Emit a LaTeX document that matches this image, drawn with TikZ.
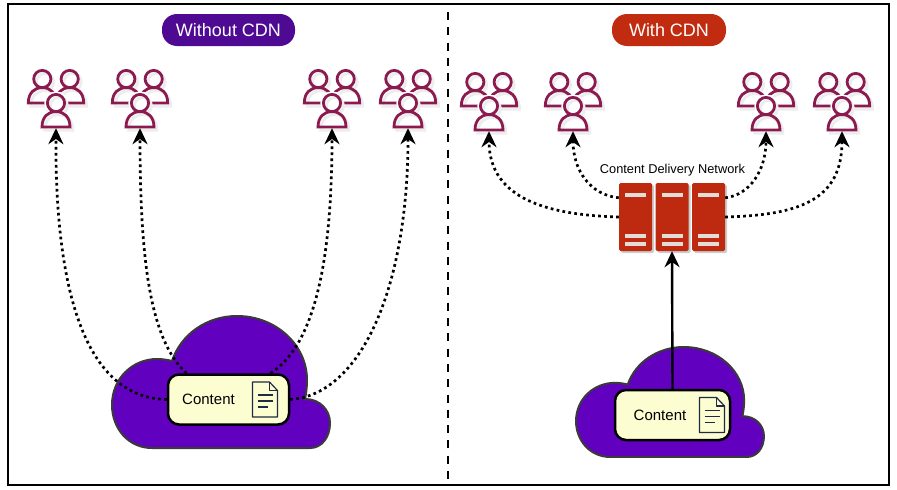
\documentclass[tikz,border=0pt]{standalone}
\usepackage{fontspec}
\setmainfont{Liberation Sans}
\usetikzlibrary{arrows.meta,shadows}
\definecolor{pilla}{HTML}{4F0A94}
\definecolor{pillb}{HTML}{C12C10}
\definecolor{cloudfill}{HTML}{6200C0}
\definecolor{cloudline}{HTML}{3A3A3A}
\definecolor{boxfill}{HTML}{FDFDD2}
\definecolor{docline}{HTML}{1F2A44}
\definecolor{personline}{HTML}{8B1A4F}
\definecolor{serverfill}{HTML}{BE2A10}
\definecolor{barfill}{HTML}{E4DCD6}
\tikzset{
  pill/.style={rounded corners=15pt,text=white,inner sep=0pt,minimum height=32pt,font=\fontsize{18}{22}\selectfont},
  contentbox/.style={draw=black,line width=2.5pt,fill=boxfill,rounded corners=11pt,inner sep=0pt,minimum height=50pt,font=\fontsize{15}{18}\selectfont},
  groupbox/.style={inner sep=0pt,minimum width=60pt,minimum height=60pt},
  serverbox/.style={fill=serverfill,rounded corners=1.5pt,inner sep=0pt,minimum width=33pt,minimum height=68pt,drop shadow={shadow xshift=2pt,shadow yshift=-2pt,fill=black,opacity=.2}},
  dots/.style={line width=2.7pt,dash pattern=on 2.7pt off 3.3pt,-{Stealth[length=16pt,width=15pt]}},
  solid arrow/.style={line width=2.4pt,-{Stealth[length=16pt,width=15pt]}},
  person/.pic={
    \path[pic actions] (0,0) circle (8.6);
    \path[pic actions] (-14,24) -- (14,24) .. controls (14,14) and (8,8.6) .. (0,8.6) .. controls (-8,8.6) and (-14,14) .. (-14,24) -- cycle;
  },
  usergroup/.pic={
    \pic[draw=gray!14,line width=3pt] at (-11,-16) {person};
    \pic[draw=gray!14,line width=3pt] at (16.5,-16) {person};
    \pic[draw=personline,line width=2.8pt] at (-13.7,-19) {person};
    \pic[draw=personline,line width=2.8pt] at (13.7,-19) {person};
    \pic[draw=white,fill=white,line width=6pt] at (0,5) {person};
    \pic[draw=gray!14,line width=3pt] at (2.8,8) {person};
    \pic[draw=personline,line width=2.8pt] at (0,5) {person};
  },
  cloudshape/.pic={
    \path[pic actions] (-69,66) .. controls (-93,66) and (-109,46) .. (-109,23)
      .. controls (-109,-4) and (-88,-23) .. (-64,-23)
      .. controls (-58,-23) and (-53,-22) .. (-49,-21)
      .. controls (-40,-48) and (-14,-66) .. (16,-66)
      .. controls (55,-66) and (86,-37) .. (86,-2)
      .. controls (86,6) and (85,12) .. (84,17)
      .. controls (99,17) and (109,28) .. (109,41)
      .. controls (109,55) and (101,66) .. (89,66) -- cycle;
  },
  docicon/.pic={
    \draw[docline,line width=1.2pt,fill=boxfill,line join=round] (-12.5,-17.5) -- (4.5,-17.5) -- (12.5,-9) -- (12.5,17.5) -- (-12.5,17.5) -- cycle;
    \draw[docline,line width=1.2pt,line join=round] (4.5,-17.5) -- (4.5,-9) -- (12.5,-9);
    \draw[docline,line width=1.2pt] (-7.5,-4.5) -- (7.5,-4.5) (-7.5,1.5) -- (7.5,1.5) (-7.5,7.5) -- (3,7.5);
  }
}
\begin{document}
\begin{tikzpicture}[x=1pt,y=-1pt]
    \useasboundingbox (0,0) rectangle (897,490);
    \draw[line width=2pt] (8,4) rectangle (889,485);
    \draw[line width=2.6pt,dash pattern=on 8pt off 7.3pt] (448,12) -- (448,484);

    \node[pill,fill=pilla,minimum width=133pt] (titlea) at (228.5,30) {Without CDN};
    \node[pill,fill=pillb,minimum width=114pt] (titleb) at (669,30) {With CDN};

    % user groups
    \foreach \n/\x/\y in {ua/56/98,ub/140/98,uc/332/98,ud/408/98,ue/489/101,uf/573/101,ug/766/101,uh/842/101}{
        \pic at (\x,\y) {usergroup};
        \node[groupbox] (\n) at (\x,\y) {};
    }

    % without cdn
    \pic[draw=cloudline,fill=cloudfill,line width=2pt] at (221,382) {cloudshape};
    \node[contentbox,minimum width=121pt] (ca) at (228.5,399.5) {Content\rule{40pt}{0pt}};
    \pic at ([xshift=36.5pt]ca.center) {docicon};

    \draw[dots] (ca.west) .. controls (85,398) and (55,290) .. (ua.south);
    \draw[dots] (ca.148) .. controls (150,340) and (140,260) .. (ub.south);
    \draw[dots] (ca.32) .. controls (315,345) and (332,260) .. (uc.south);
    \draw[dots] (ca.east) .. controls (360,395) and (408,290) .. (ud.south);

    % with cdn
    \pic[draw=cloudline,fill=cloudfill,line width=2pt,xscale=.862,yscale=.833] at (670,402) {cloudshape};
    \node[contentbox,minimum width=115pt] (cb) at (672.5,415) {Content\rule{25pt}{0pt}};
    \pic at ([xshift=39.5pt]cb.center) {docicon};

    \node[serverbox] (sa) at (635.5,217) {};
    \node[serverbox] (sb) at (672,217) {};
    \node[serverbox] (sc) at (708.5,217) {};
    \foreach \s in {sa,sb,sc}{
        \foreach \y in {-24,16.5,24.5}{
            \fill[barfill] ([shift={(-10.5,\y)}]\s.center) rectangle ++(21,4);
        }
    }
    \node[font=\fontsize{12.8}{15}\selectfont] (cdn) at (672.5,170) {Content Delivery Network};

    \draw[solid arrow] (cb.north) -- (sb.south);
    \draw[dots] (sa.west) .. controls (550,215) and (489,200) .. (ue.south);
    \draw[dots] (sa.131) .. controls (590,195) and (573,170) .. (uf.south);
    \draw[dots] (sc.49) .. controls (750,195) and (766,170) .. (ug.south);
    \draw[dots] (sc.east) .. controls (800,215) and (842,200) .. (uh.south);
\end{tikzpicture}
\end{document}
